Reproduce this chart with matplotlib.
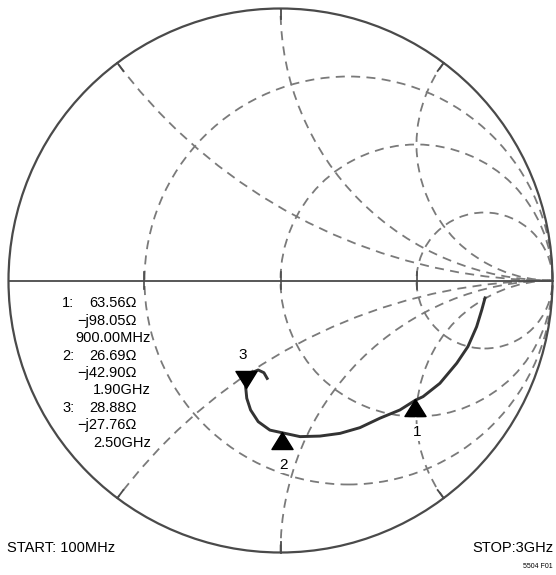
import numpy as np
import matplotlib.pyplot as plt
from matplotlib.patches import Circle
from matplotlib.path import Path

# marker readouts (ohms, Z0 = 50)
marker_ids = ["1", "2", "3"]
marker_r = [63.56, 26.69, 28.88]
marker_x = [-98.05, -42.90, -27.76]
marker_freq = ["900.00MHz", "1.90GHz", "2.50GHz"]

# swept trace 100MHz -> 3GHz, reflection coefficient
trace_re = [0.752, 0.740, 0.721, 0.689, 0.648, 0.586, 0.524, 0.496, 0.439,
            0.366, 0.292, 0.219, 0.145, 0.072, 0.007, -0.039, -0.082,
            -0.110, -0.124, -0.128, -0.124, -0.106, -0.082, -0.061, -0.049]
trace_im = [-0.064, -0.108, -0.170, -0.243, -0.304, -0.378, -0.427, -0.440,
            -0.476, -0.506, -0.541, -0.562, -0.572, -0.574, -0.560, -0.550,
            -0.519, -0.476, -0.433, -0.393, -0.360, -0.339, -0.329, -0.339,
            -0.360]

z0 = 50.0
r_circles = [1 / 3, 1, 3]
x_arcs = [0.5, 1, 2, -0.5, -1, -2]

W, H = 556, 575
CX, CY, RAD = 280.5, 280.5, 272.0
FS = 10.5

plt.rcParams['font.family'] = ['Liberation Sans Narrow', 'Liberation Sans', 'DejaVu Sans']

fig = plt.figure(figsize=(W / 100, H / 100), dpi=100)
ax = fig.add_axes([0, 0, 1, 1])
ax.set_xlim(-CX / RAD, (W - CX) / RAD)
ax.set_ylim(-(H - CY) / RAD, CY / RAD)
ax.axis('off')

grid_kw = dict(fill=False, ec='#7a7a7a', lw=1.3, ls=(0, (5, 3.5)))

# outer boundary, also used to clip the reactance arcs
outer = Circle((0, 0), 1, fill=False, ec='#4a4a4a', lw=1.6, zorder=3)
ax.add_patch(outer)
ax.plot([-1, 1], [0, 0], color='#4a4a4a', lw=1.3, zorder=3)

for r in r_circles:
    ax.add_patch(Circle((r / (1 + r), 0), 1 / (1 + r), **grid_kw))

for x in x_arcs:
    arc = Circle((1, 1 / x), 1 / abs(x), **grid_kw)
    ax.add_patch(arc)
    arc.set_clip_path(outer)

# small solid ticks where the arcs meet the rim and the circles cross the axis
for x in x_arcs:
    g = complex((x * x - 1) / (x * x + 1), 2 * x / (x * x + 1))
    ax.plot([g.real, g.real * 0.963], [g.imag, g.imag * 0.963],
            color='#4a4a4a', lw=1.3)
for r in r_circles:
    gl = (r - 1) / (r + 1)
    ax.plot([gl, gl], [-0.03, 0.03], color='#4a4a4a', lw=1.2)

# measured trace
ax.plot(trace_re, trace_im, color='#333333', lw=2.1, zorder=4)

# markers: convert impedance to reflection coefficient
up = Path([(0, 0), (0.62, -1), (-0.62, -1), (0, 0)],
          [Path.MOVETO, Path.LINETO, Path.LINETO, Path.CLOSEPOLY])
down = Path([(0, 0), (0.62, 1), (-0.62, 1), (0, 0)],
            [Path.MOVETO, Path.LINETO, Path.LINETO, Path.CLOSEPOLY])
label_off = [(1, -24), (1, -24), (-2, 24)]
for i, mid in enumerate(marker_ids):
    z = complex(marker_r[i], marker_x[i]) / z0
    g = (z - 1) / (z + 1)
    mk = down if mid == "3" else up
    ax.plot([g.real], [g.imag], marker=mk, ms=24.5, color='black',
            mec='black', ls='none', zorder=5)
    ax.annotate(mid, (g.real, g.imag), xytext=label_off[i],
                textcoords='offset points', ha='center', va='center',
                fontsize=FS + 0.5, zorder=6,
                bbox=dict(boxstyle='square,pad=0.1', fc='white', ec='none'))


def fpos(px, py):
    return px / W, 1 - py / H


# readout block
y0, dy = 303, 17.5
for i, mid in enumerate(marker_ids):
    ya = y0 + 3 * i * dy
    fig.text(*fpos(62, ya), mid + ":", ha='left', va='center', fontsize=FS)
    fig.text(*fpos(137, ya), f"{marker_r[i]:.2f}\u03a9", ha='right',
             va='center', fontsize=FS)
    fig.text(*fpos(137, ya + dy), f"\u2212j{abs(marker_x[i]):.2f}\u03a9",
             ha='right', va='center', fontsize=FS)
    fig.text(*fpos(151, ya + 2 * dy), marker_freq[i], ha='right',
             va='center', fontsize=FS)

fig.text(*fpos(7, 548), "START: 100MHz", ha='left', va='center', fontsize=FS)
fig.text(*fpos(553, 548), "STOP:3GHz", ha='right', va='center', fontsize=FS)
fig.text(*fpos(553, 567), "5504 F01", ha='right', va='center', fontsize=5)

fig.savefig('out.png', dpi=100, facecolor='white')
